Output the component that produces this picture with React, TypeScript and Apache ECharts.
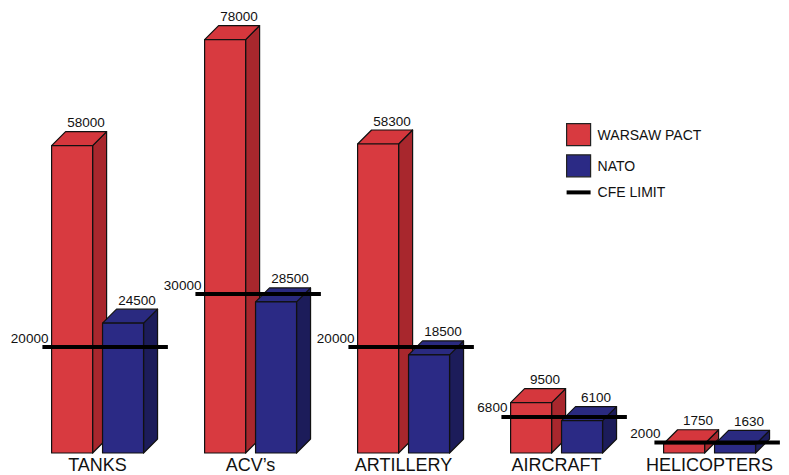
import React, { useEffect, useRef } from "react";
import * as echarts from "echarts";

const categories = ["TANKS", "ACV’s", "ARTILLERY", "AIRCRAFT", "HELICOPTERS"];
const warsawPact = [58000, 78000, 58300, 9500, 1750];
const nato = [24500, 28500, 18500, 6100, 1630];
const cfeLimit = [20000, 30000, 20000, 6800, 2000];

const FONT = '"Liberation Sans", Arial, Helvetica, sans-serif';
const DX = 14;
const DY = 14;

type Palette = { front: string; side: string; top: string };
const RED: Palette = { front: "#d83a40", side: "#a8272d", top: "#d5373d" };
const BLUE: Palette = { front: "#2b2a85", side: "#1c1c5a", top: "#2a2a80" };

// 3D box bar: front face, side face, top face, plus a value label above the back edge
function boxRenderer(pal: Palette, offsetFrac: number) {
  return (params: any, api: any) => {
    const cat = api.value(0);
    const val = api.value(1);
    const base = api.coord([cat, 0]);
    const top = api.coord([cat, val]);
    const band = api.size([1, 0])[0];
    const w = band * 0.268;
    const x0 = base[0] + band * offsetFrac;
    const yb = base[1];
    const yt = top[1];
    const stroke = { stroke: "#111", lineWidth: 1.2, lineJoin: "round" };
    return {
      type: "group",
      children: [
        {
          type: "polygon",
          shape: {
            points: [
              [x0 + w, yt],
              [x0 + w + DX, yt - DY],
              [x0 + w + DX, yb - DY],
              [x0 + w, yb],
            ],
          },
          style: { fill: pal.side, ...stroke },
        },
        {
          type: "polygon",
          shape: {
            points: [
              [x0, yt],
              [x0 + DX, yt - DY],
              [x0 + w + DX, yt - DY],
              [x0 + w, yt],
            ],
          },
          style: { fill: pal.top, ...stroke },
        },
        {
          type: "rect",
          shape: { x: x0, y: yt, width: w, height: yb - yt },
          style: { fill: pal.front, ...stroke },
        },
        {
          type: "text",
          style: {
            text: String(val),
            x: x0 + DX + w / 2,
            y: yt - DY - 2,
            align: "center",
            verticalAlign: "bottom",
            fill: "#111",
            font: `13.5px ${FONT}`,
          },
        },
      ],
    };
  };
}

// CFE limit: thick black bar across the pair with its value on the left
function limitRenderer(params: any, api: any) {
  const cat = api.value(0);
  const val = api.value(1);
  const p = api.coord([cat, val]);
  const band = api.size([1, 0])[0];
  const xs = p[0] - band * 0.36;
  const xe = p[0] + band * 0.46;
  return {
    type: "group",
    children: [
      {
        type: "line",
        shape: { x1: xs, y1: p[1], x2: xe, y2: p[1] },
        style: { stroke: "#000", lineWidth: 4 },
      },
      {
        type: "text",
        style: {
          text: String(val),
          x: xs + 6,
          y: p[1] - 2,
          align: "right",
          verticalAlign: "bottom",
          fill: "#111",
          font: `13.5px ${FONT}`,
        },
      },
    ],
  };
}

export default function App() {
  const ref = useRef<HTMLDivElement>(null);

  useEffect(() => {
    if (!ref.current) return;
    const chart = echarts.init(ref.current, null, { renderer: "svg" });
    const idx = categories.map((_, i) => i);
    chart.setOption({
      animation: false,
      backgroundColor: "#ffffff",
      textStyle: { fontFamily: FONT },
      grid: {
        left: 21,
        right: 3,
        top: 29,
        bottom: 22,
        containLabel: false,
        outerBoundsMode: "none",
      },
      xAxis: {
        type: "category",
        data: categories,
        axisLine: { show: false },
        axisTick: { show: false },
        splitLine: { show: false },
        axisLabel: {
          interval: 0,
          margin: 3,
          fontSize: 18,
          lineHeight: 18,
          color: "#111",
          fontFamily: FONT,
        },
      },
      yAxis: {
        type: "value",
        min: 0,
        max: 80000,
        show: false,
      },
      legend: {
        orient: "vertical",
        left: 566,
        top: 123,
        padding: 0,
        itemWidth: 24,
        itemHeight: 22,
        itemGap: 8,
        selectedMode: false,
        textStyle: { fontSize: 14, color: "#111", fontFamily: FONT, padding: [0, 0, 0, 2] },
        data: [
          {
            name: "WARSAW PACT",
            icon: "rect",
            itemStyle: { color: RED.front, borderColor: "#222", borderWidth: 1.2 },
          },
          {
            name: "NATO",
            icon: "rect",
            itemStyle: { color: BLUE.front, borderColor: "#222", borderWidth: 1.2 },
          },
          {
            name: "CFE LIMIT",
            icon: "path://M0 0 H24 V4 H0 Z",
            itemStyle: { color: "#000", borderWidth: 0 },
          },
        ],
      },
      series: [
        {
          name: "WARSAW PACT",
          type: "custom",
          itemStyle: { color: RED.front },
          renderItem: boxRenderer(RED, -0.30),
          data: idx.map((i) => [i, warsawPact[i]]),
          z: 2,
        },
        {
          name: "NATO",
          type: "custom",
          itemStyle: { color: BLUE.front },
          renderItem: boxRenderer(BLUE, 0.033),
          data: idx.map((i) => [i, nato[i]]),
          z: 3,
        },
        {
          name: "CFE LIMIT",
          type: "custom",
          itemStyle: { color: "#000" },
          renderItem: limitRenderer,
          data: idx.map((i) => [i, cfeLimit[i]]),
          z: 4,
        },
      ],
    });
    return () => chart.dispose();
  }, []);

  return (
    <div
      ref={ref}
      style={{ position: "absolute", left: 0, top: 0, width: 789, height: 475 }}
    />
  );
}
